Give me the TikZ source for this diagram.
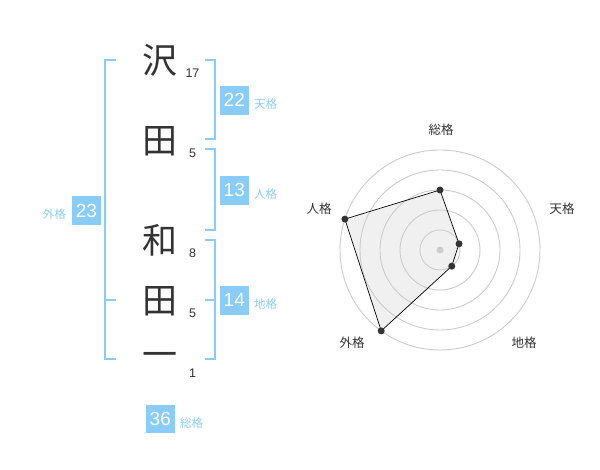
\documentclass[tikz,border=0pt]{standalone}
\usepackage{fontspec}
\setmainfont{Liberation Sans}
\newfontfamily\jp{Noto Sans CJK JP}
\definecolor{skyb}{HTML}{88CCF7}
\definecolor{skyt}{HTML}{8CCDF2}
\definecolor{ink}{HTML}{333333}
\definecolor{ring}{HTML}{CCCCCC}
\definecolor{polyfill}{HTML}{F0F0F0}
\begin{document}
\begin{tikzpicture}[x=1pt,y=-1pt,
  kanji/.style={font=\jp\fontsize{35}{35}\selectfont,text=ink,inner sep=0pt},
  strokes/.style={font=\fontsize{12.5}{12.5}\selectfont,text=ink,inner sep=0pt},
  valbox/.style={fill=skyb,text=white,font=\fontsize{19}{19}\selectfont,minimum width=28.5pt,minimum height=28.5pt,inner sep=0pt},
  kaku/.style={font=\jp\fontsize{11.5}{11.5}\selectfont,text=skyt,inner sep=0pt},
  bracket/.style={draw=skyb,line width=2pt},
  radlab/.style={font=\jp\fontsize{12.5}{12.5}\selectfont,text=ink,inner sep=0pt},
  ringline/.style={draw=ring,line width=0.9pt},
  vdot/.style={circle,fill=ink,inner sep=0pt,minimum size=7pt}]
\useasboundingbox[fill=white] (0,0) rectangle (600,470);

% kanji
\node[kanji] (k1) at (160,60) {沢};
\node[kanji] (k2) at (160,141) {田};
\node[kanji] (k3) at (160,240) {和};
\node[kanji] (k4) at (160,301) {田};
\node[kanji] (k5) at (160,360) {一};
% stroke counts
\node[strokes] (s1) at (192.5,73) {17};
\node[strokes] (s2) at (192.5,153.5) {5};
\node[strokes] (s3) at (192.5,253) {8};
\node[strokes] (s4) at (192.5,313.5) {5};
\node[strokes] (s5) at (192.5,373.5) {1};

% brackets
\draw[bracket] (116,60) -- (105,60) -- (105,359.5) -- (116,359.5);
\draw[bracket] (105,300) -- (116,300);
\draw[bracket] (205,60) -- (214.5,60) -- (214.5,139.5) -- (205,139.5);
\draw[bracket] (205,149.5) -- (214.5,149.5) -- (214.5,230) -- (205,230);
\draw[bracket] (205,240) -- (214.5,240) -- (214.5,359.5) -- (205,359.5);
\draw[bracket] (205,300) -- (214.5,300);

% value boxes
\node[valbox] (ten) at (234.3,100.3) {22};
\node[kaku,anchor=west] (tenl) at (254,104) {天格};
\node[valbox] (jin) at (234.3,190.3) {13};
\node[kaku,anchor=west] (jinl) at (254,194) {人格};
\node[valbox] (chi) at (234.3,300.3) {14};
\node[kaku,anchor=west] (chil) at (254,304) {地格};
\node[valbox] (gai) at (86.5,210.5) {23};
\node[kaku,anchor=east] (gail) at (66,214) {外格};
\node[valbox] (sou) at (160.3,419.2) {36};
\node[kaku,anchor=west] (soul) at (180,423) {総格};

% radar chart
\begin{scope}[shift={(440,250)},y=1pt]
  \coordinate (pS) at (90:60);
  \coordinate (pT) at (18:20);
  \coordinate (pC) at (-54:20);
  \coordinate (pG) at (-126:100);
  \coordinate (pJ) at (162:100);
  \fill[polyfill] (pS) -- (pT) -- (pC) -- (pG) -- (pJ) -- cycle;
  \foreach \r in {20,40,60,80,100} \draw[ringline] (0,0) circle[radius=\r];
  \draw[draw=black,line width=0.7pt] (pS) -- (pT) -- (pC) -- (pG) -- (pJ) -- cycle;
  \node[circle,fill=ring,inner sep=0pt,minimum size=7pt] (ctr) at (0,0) {};
  \node[vdot] (dS) at (pS) {};
  \node[vdot] (dT) at (pT) {};
  \node[vdot] (dC) at (pC) {};
  \node[vdot] (dG) at (pG) {};
  \node[vdot] (dJ) at (pJ) {};
\end{scope}
\node[radlab] (lS) at (441,130) {総格};
\node[radlab] (lT) at (562,209) {天格};
\node[radlab] (lJ) at (319,209) {人格};
\node[radlab] (lG) at (352,342.5) {外格};
\node[radlab] (lC) at (524,342.5) {地格};
\end{tikzpicture}
\end{document}
